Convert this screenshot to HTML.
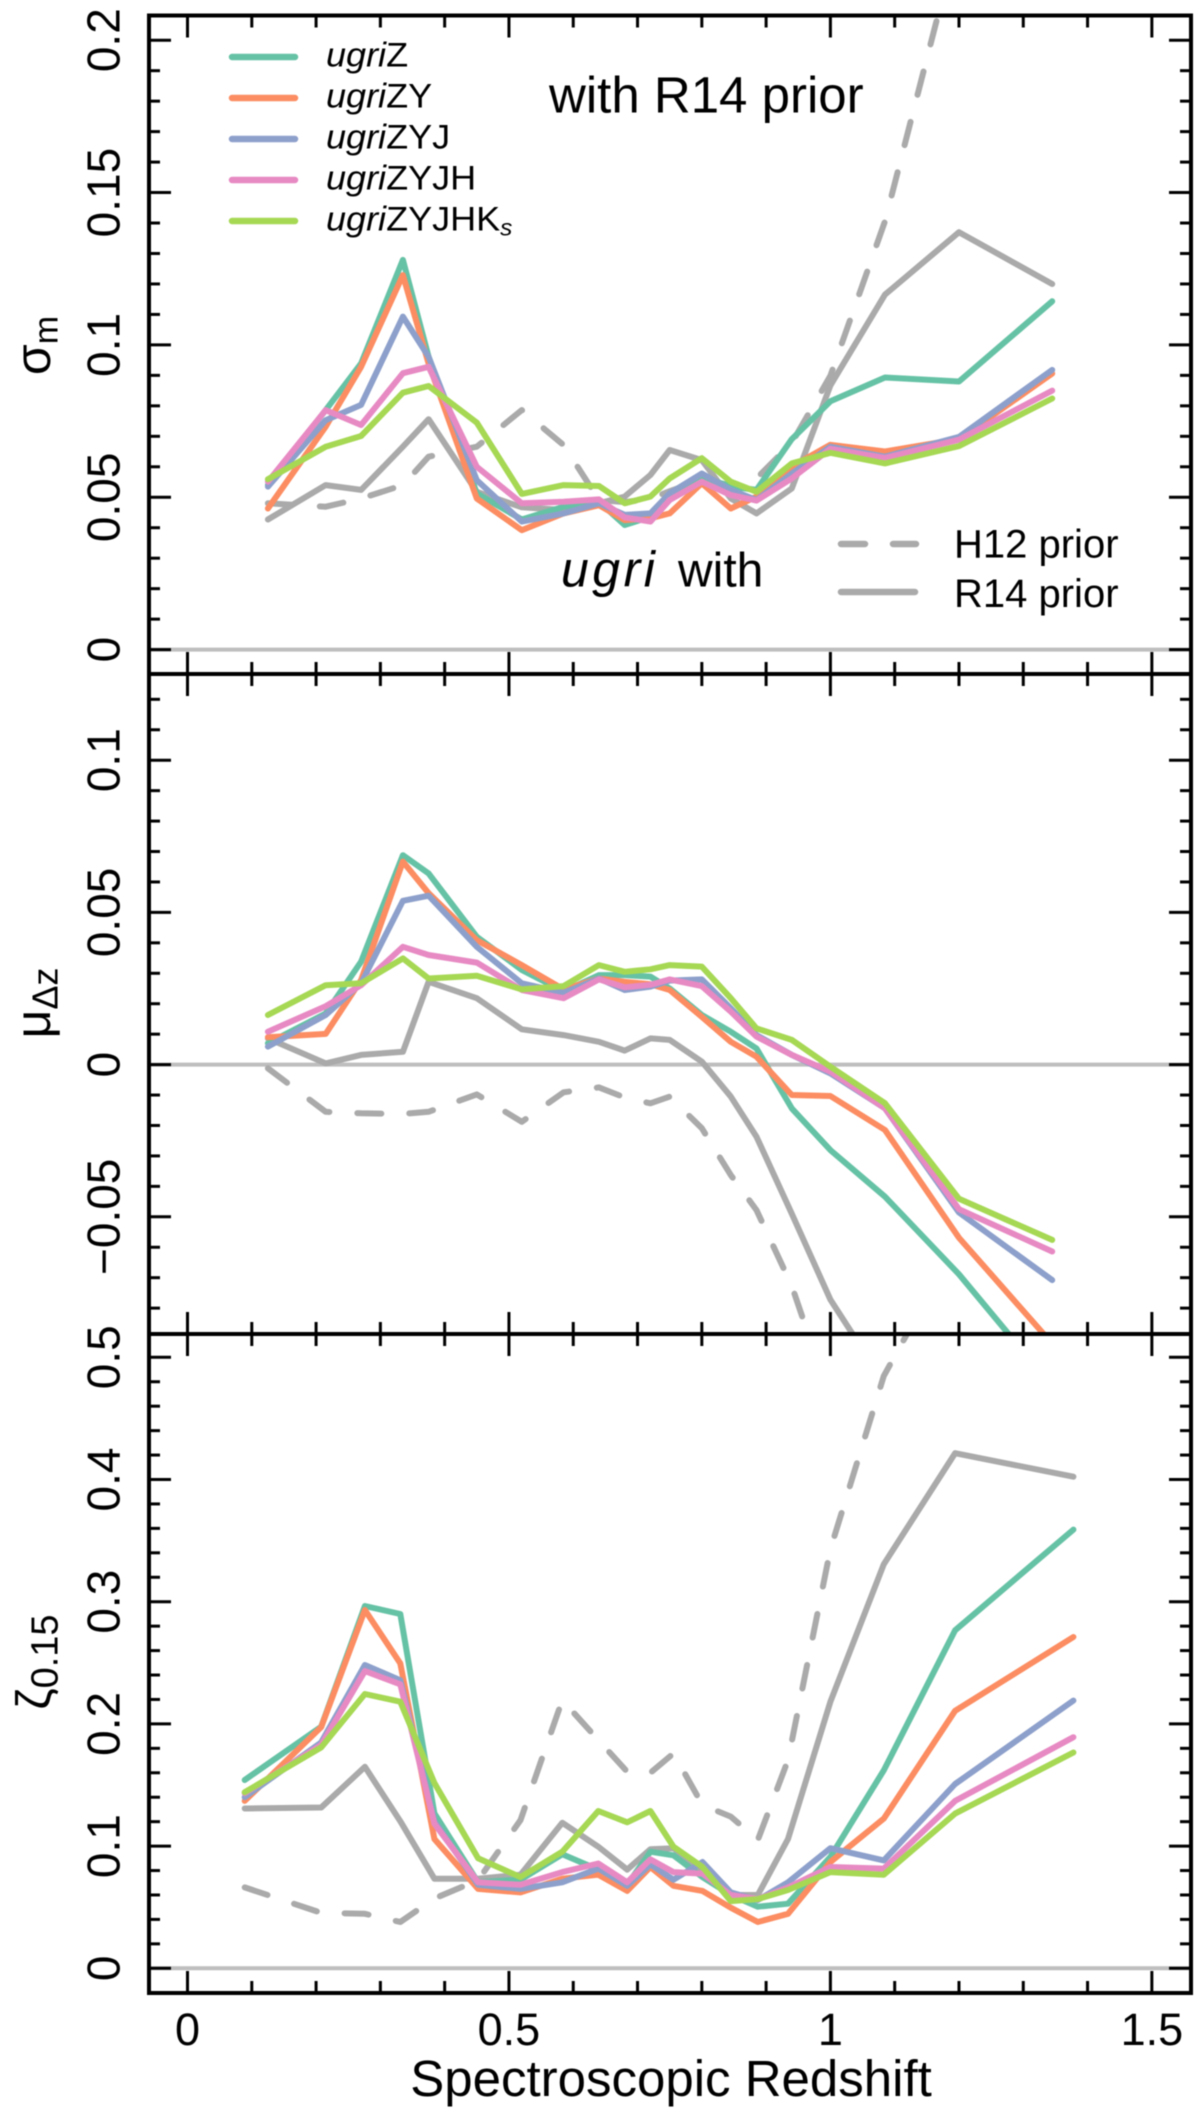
<!DOCTYPE html>
<html lang="en">
<head>
<meta charset="utf-8">
<title>Photometric redshift metrics by spectroscopic redshift</title>
<style>
html,body{margin:0;padding:0;background:#fff;width:1200px;height:2118px;overflow:hidden}
svg{display:block;font-family:"Liberation Sans",sans-serif;filter:blur(0.5px)}
text{fill:#000}
</style>
</head>
<body>
<svg id="chart" xmlns="http://www.w3.org/2000/svg" width="1200" height="2118" viewBox="0 0 1200 2118">
  <rect x="0" y="0" width="1200" height="2118" fill="#fff"/>
  <g id="panels"></g>

  <g>
    <line x1="232" x2="295" y1="57" y2="57" stroke="#66c2a5" stroke-width="6.5" stroke-linecap="round"/>
    <line x1="232" x2="295" y1="98" y2="98" stroke="#fc8d62" stroke-width="6.5" stroke-linecap="round"/>
    <line x1="232" x2="295" y1="139" y2="139" stroke="#8da0cb" stroke-width="6.5" stroke-linecap="round"/>
    <line x1="232" x2="295" y1="180" y2="180" stroke="#e78ac3" stroke-width="6.5" stroke-linecap="round"/>
    <line x1="232" x2="295" y1="221" y2="221" stroke="#a6d854" stroke-width="6.5" stroke-linecap="round"/>
    <text transform="translate(326,66.5) scale(1.06,1)" font-size="34"><tspan font-style="italic">ugri</tspan>Z</text>
    <text transform="translate(326,107.5) scale(1.06,1)" font-size="34"><tspan font-style="italic">ugri</tspan>ZY</text>
    <text transform="translate(326,148.5) scale(1.06,1)" font-size="34"><tspan font-style="italic">ugri</tspan>ZYJ</text>
    <text transform="translate(326,189.5) scale(1.06,1)" font-size="34"><tspan font-style="italic">ugri</tspan>ZYJH</text>
    <text transform="translate(326,230.5) scale(1.06,1)" font-size="34"><tspan font-style="italic">ugri</tspan>ZYJHK<tspan font-style="italic" font-size="23" dy="5">s</tspan></text>
  </g>

  <text x="549" y="112.5" font-size="51">with R14 prior</text>
  <text x="561" y="586.5" font-size="50" font-style="italic" letter-spacing="3.5">ugri</text>
  <text x="678" y="586.5" font-size="48">with</text>

  <g>
    <line x1="841" x2="916" y1="544" y2="544" stroke="#aaaaaa" stroke-width="6.5" stroke-linecap="round" stroke-dasharray="24 28"/>
    <line x1="841" x2="915" y1="592" y2="592" stroke="#aaaaaa" stroke-width="6.5" stroke-linecap="round"/>
    <text x="954" y="557.5" font-size="40">H12 prior</text>
    <text x="954" y="607" font-size="40">R14 prior</text>
  </g>

  <text transform="translate(50,345.5) rotate(-90)" text-anchor="middle" font-size="50">σ<tspan font-size="34" dy="7.5">m</tspan></text>
  <text transform="translate(50,1003) rotate(-90)" text-anchor="middle" font-size="50">μ<tspan font-size="36" dy="7.5">Δz</tspan></text>
  <text transform="translate(50,1662) rotate(-90)" text-anchor="middle" font-size="48">ζ<tspan font-size="38" dy="7.5">0.15</tspan></text>
  <text x="671" y="2096" text-anchor="middle" font-size="51">Spectroscopic Redshift</text>
</svg>

<script>
// Redshift bin centres
const zBinsUpper = [0.125,0.215,0.27,0.335,0.375,0.45,0.52,0.585,0.64,0.68,0.72,0.75,0.80,0.845,0.885,0.94,1.0,1.085,1.2,1.345];
const zBinsLower = [0.089,0.208,0.276,0.331,0.384,0.452,0.518,0.583,0.639,0.684,0.72,0.756,0.801,0.845,0.887,0.934,1.0,1.083,1.194,1.378];

// Panel 1: sigma_m
const sigmaH12 = [0.048,0.0469,0.0496,0.054,0.0633,0.0666,0.0786,0.0671,0.0491,0.0484,0.0495,0.052,0.0557,0.054,0.0562,0.0678,0.0899,0.1406,0.235,0.30];
const sigmaR14 = [0.0427,0.054,0.0524,0.0666,0.0756,0.0518,0.0467,0.0458,0.048,0.0502,0.0573,0.0655,0.0622,0.0496,0.0447,0.0529,0.0867,0.1165,0.137,0.12];
const sigmaZ = [0.054,0.0786,0.0939,0.1279,0.0961,0.0513,0.0427,0.0469,0.0485,0.0409,0.0436,0.0513,0.0567,0.0535,0.0524,0.0691,0.0815,0.0893,0.088,0.1143];
const sigmaZY = [0.0463,0.0732,0.0928,0.1229,0.0939,0.0496,0.0392,0.0447,0.0474,0.0425,0.0431,0.0447,0.0546,0.0463,0.0502,0.0601,0.0672,0.065,0.0691,0.0906];
const sigmaZYJ = [0.0535,0.0753,0.0803,0.1093,0.0961,0.0556,0.042,0.0447,0.048,0.0442,0.0447,0.0513,0.0578,0.0524,0.0491,0.0578,0.0666,0.0633,0.0698,0.0918];
const sigmaZYJH = [0.0551,0.0786,0.0737,0.0907,0.0928,0.06,0.048,0.0485,0.0493,0.0434,0.042,0.0491,0.0551,0.0507,0.0489,0.0562,0.0659,0.0629,0.0689,0.085];
const sigmaZYJHK = [0.0559,0.0666,0.0701,0.0843,0.0865,0.0745,0.0511,0.054,0.0537,0.048,0.0502,0.0562,0.0628,0.0551,0.0518,0.0611,0.0646,0.0611,0.0668,0.0824];

// Panel 2: mu_delta_z
const muH12 = [-0.0012,-0.0155,-0.016,-0.0162,-0.0155,-0.0098,-0.0188,-0.0091,-0.0075,-0.0108,-0.0127,-0.0105,-0.0209,-0.0363,-0.0478,-0.0727,-0.11,-0.16,-0.22,-0.3];
const muR14 = [0.0086,0.0004,0.0032,0.0042,0.0272,0.0218,0.0116,0.0097,0.0075,0.0046,0.0086,0.0081,0.001,-0.0105,-0.0237,-0.049,-0.0772,-0.105,-0.16,-0.2];
const muZ = [0.007,0.0168,0.0338,0.0688,0.0628,0.042,0.0311,0.024,0.0294,0.0294,0.0289,0.025,0.0163,0.0108,0.0053,-0.0144,-0.0281,-0.0434,-0.0689,-0.1057];
const muZY = [0.009,0.0101,0.0278,0.0667,0.0563,0.0409,0.0327,0.0247,0.0283,0.0272,0.0264,0.0245,0.0157,0.0075,0.0026,-0.01,-0.0103,-0.0215,-0.0569,-0.0917];
const muZYJ = [0.0059,0.0163,0.0267,0.0538,0.0555,0.0387,0.0267,0.0236,0.0283,0.0245,0.0256,0.0276,0.028,0.0185,0.0097,0.0032,-0.0029,-0.0144,-0.0486,-0.0708];
const muZYJH = [0.0108,0.0192,0.0261,0.0387,0.036,0.0335,0.0245,0.0218,0.028,0.0254,0.0262,0.028,0.0258,0.0174,0.0092,0.0032,-0.0023,-0.0144,-0.0475,-0.0614];
const muZYJHK = [0.0163,0.0261,0.0267,0.0349,0.0283,0.0292,0.0247,0.0258,0.0327,0.0305,0.0313,0.0327,0.0322,0.0218,0.0119,0.0081,-0.0007,-0.0127,-0.0441,-0.0576];

// Panel 3: zeta_0.15
const zetaH12 = [0.0662,0.0454,0.0446,0.0379,0.0571,0.0722,0.1213,0.2195,0.1868,0.1609,0.16,0.1759,0.1336,0.1241,0.105,0.1704,0.343,0.4848,0.59,0.7];
const zetaR14 = [0.1308,0.1316,0.1649,0.1204,0.0733,0.0733,0.0766,0.1191,0.0995,0.0808,0.0975,0.0983,0.08,0.06,0.06,0.1058,0.2182,0.3307,0.4215,0.4023];
const zetaZ = [0.1541,0.1977,0.2965,0.2899,0.1268,0.0704,0.0725,0.0933,0.0808,0.0683,0.0954,0.0925,0.0746,0.06,0.0504,0.0529,0.0912,0.162,0.2766,0.359];
const zetaZY = [0.137,0.1974,0.2932,0.2495,0.1058,0.065,0.0621,0.0733,0.0766,0.0633,0.0829,0.0675,0.0633,0.0496,0.0379,0.0446,0.087,0.1225,0.2107,0.2711];
const zetaZYJ = [0.14,0.1849,0.2482,0.2357,0.1204,0.0683,0.065,0.0704,0.0816,0.0675,0.085,0.0725,0.087,0.0621,0.0558,0.0704,0.0983,0.0883,0.1508,0.2191];
const zetaZYJH = [0.1433,0.1828,0.2432,0.2324,0.1183,0.0704,0.0683,0.0787,0.0858,0.0704,0.0891,0.0787,0.0775,0.06,0.0566,0.0662,0.0829,0.0816,0.137,0.1891];
const zetaZYJHK = [0.1441,0.1808,0.2245,0.2182,0.1516,0.09,0.0746,0.0954,0.1287,0.1195,0.1287,0.0995,0.0829,0.055,0.0566,0.0641,0.0787,0.0766,0.1266,0.1766];

// Tick values and labels
const xMajorTicks = [0,0.5,1,1.5];
const xMinorTicks = [0.1,0.2,0.3,0.4,0.6,0.7,0.8,0.9,1.1,1.2,1.3,1.4];
const xTickLabels = ['0','0.5','1','1.5'];
const sigmaMajorTicks = [0,0.05,0.1,0.15,0.2];
const sigmaMinorTicks = [0.01,0.02,0.03,0.04,0.06,0.07,0.08,0.09,0.11,0.12,0.13,0.14,0.16,0.17,0.18,0.19];
const sigmaTickLabels = ['0','0.05','0.1','0.15','0.2'];
const muMajorTicks = [-0.05,0,0.05,0.1];
const muMinorTicks = [-0.08,-0.07,-0.06,-0.04,-0.03,-0.02,-0.01,0.01,0.02,0.03,0.04,0.06,0.07,0.08,0.09,0.11,0.12];
const muTickLabels = ['\u22120.05','0','0.05','0.1'];
const zetaMajorTicks = [0,0.1,0.2,0.3,0.4,0.5];
const zetaMinorTicks = [0.02,0.04,0.06,0.08,0.12,0.14,0.16,0.18,0.22,0.24,0.26,0.28,0.32,0.34,0.36,0.38,0.42,0.44,0.46,0.48];
const zetaTickLabels = ['0','0.1','0.2','0.3','0.4','0.5'];

// Layout
const frameLeft = 149, frameRight = 1191;
const xZero = 187.5, xPerUnit = 642.9;
const xScale = v => xZero + v * xPerUnit;
const svgNS = 'http://www.w3.org/2000/svg';
const root = document.getElementById('panels');

function make(tag, attrs, parent) {
  const node = document.createElementNS(svgNS, tag);
  for (const k in attrs) node.setAttribute(k, attrs[k]);
  parent.appendChild(node);
  return node;
}

function drawPanel(p) {
  const yScale = v => p.y0 - v * p.k;

  const g = make('g', {}, root);
  
  

  const clip = make('clipPath', {id: p.name + '-clip'}, g);
  make('rect', {x: frameLeft, y: p.top, width: frameRight - frameLeft, height: p.bottom - p.top}, clip);

  const zero = make('line', {x1: frameLeft, x2: frameRight, y1: yScale(0), y2: yScale(0), stroke: '#bebebe', 'stroke-width': 4}, g);
  
  

  const marks = make('g', {'clip-path': 'url(#' + p.name + '-clip)'}, g);
  
  
  p.series.forEach(s => {
    const pts = s.values.map((v, i) => xScale(p.zs[i]).toFixed(1) + ',' + yScale(v).toFixed(1)).join(' ');
    const attrs = {points: pts, fill: 'none', stroke: s.color, 'stroke-width': 6, 'stroke-linejoin': 'round', 'stroke-linecap': 'round'};
    if (s.dashed) attrs['stroke-dasharray'] = '24 28';
    const line = make('polyline', attrs, marks);
    
    
  });

  // y ticks, both sides
  p.major.forEach((v, i) => {
    [[frameLeft, frameLeft + 22], [frameRight - 22, frameRight]].forEach(ends => {
      const t = make('line', {x1: ends[0], x2: ends[1], y1: yScale(v), y2: yScale(v), stroke: '#000', 'stroke-width': 3}, g);
      
      
    });
    const lab = make('text', {transform: 'translate(119.5,' + yScale(v).toFixed(1) + ') rotate(-90)', 'text-anchor': 'middle', 'font-size': 46}, g);
    lab.textContent = p.labels[i];
    
    
  });
  p.minor.forEach(v => {
    [[frameLeft, frameLeft + 11], [frameRight - 11, frameRight]].forEach(ends => {
      const t = make('line', {x1: ends[0], x2: ends[1], y1: yScale(v), y2: yScale(v), stroke: '#000', 'stroke-width': 3}, g);
      
      
    });
  });

  // x ticks, top and bottom
  xMajorTicks.forEach(v => {
    [[p.top, p.top + 22], [p.bottom - 22, p.bottom]].forEach(ends => {
      const t = make('line', {x1: xScale(v), x2: xScale(v), y1: ends[0], y2: ends[1], stroke: '#000', 'stroke-width': 3}, g);
      
      
    });
  });
  xMinorTicks.forEach(v => {
    [[p.top, p.top + 12], [p.bottom - 12, p.bottom]].forEach(ends => {
      const t = make('line', {x1: xScale(v), x2: xScale(v), y1: ends[0], y2: ends[1], stroke: '#000', 'stroke-width': 3}, g);
      
      
    });
  });

  const frame = make('rect', {x: frameLeft, y: p.top, width: frameRight - frameLeft, height: p.bottom - p.top, fill: 'none', stroke: '#000', 'stroke-width': 4}, g);
  
  
}

const gray = '#aaaaaa';
const teal = '#66c2a5', orange = '#fc8d62', blue = '#8da0cb', pink = '#e78ac3', green = '#a6d854';

drawPanel({
  name: 'sigma', top: 15.5, bottom: 674, y0: 649.6, k: 3047, zs: zBinsUpper,
  major: sigmaMajorTicks, minor: sigmaMinorTicks, labels: sigmaTickLabels,
  series: [
    {key: 'h12-prior', color: gray, dashed: true, values: sigmaH12},
    {key: 'r14-prior', color: gray, values: sigmaR14},
    {key: 'ugriz', color: teal, values: sigmaZ},
    {key: 'ugrizy', color: orange, values: sigmaZY},
    {key: 'ugrizyj', color: blue, values: sigmaZYJ},
    {key: 'ugrizyjh', color: pink, values: sigmaZYJH},
    {key: 'ugrizyjhks', color: green, values: sigmaZYJHK}
  ]
});
drawPanel({
  name: 'mu', top: 674, bottom: 1334, y0: 1064.6, k: 3044, zs: zBinsUpper,
  major: muMajorTicks, minor: muMinorTicks, labels: muTickLabels,
  series: [
    {key: 'h12-prior', color: gray, dashed: true, values: muH12},
    {key: 'r14-prior', color: gray, values: muR14},
    {key: 'ugriz', color: teal, values: muZ},
    {key: 'ugrizy', color: orange, values: muZY},
    {key: 'ugrizyj', color: blue, values: muZYJ},
    {key: 'ugrizyjh', color: pink, values: muZYJH},
    {key: 'ugrizyjhks', color: green, values: muZYJHK}
  ]
});
drawPanel({
  name: 'zeta', top: 1334, bottom: 1993, y0: 1968.3, k: 1222, zs: zBinsLower,
  major: zetaMajorTicks, minor: zetaMinorTicks, labels: zetaTickLabels,
  series: [
    {key: 'h12-prior', color: gray, dashed: true, values: zetaH12},
    {key: 'r14-prior', color: gray, values: zetaR14},
    {key: 'ugriz', color: teal, values: zetaZ},
    {key: 'ugrizy', color: orange, values: zetaZY},
    {key: 'ugrizyj', color: blue, values: zetaZYJ},
    {key: 'ugrizyjh', color: pink, values: zetaZYJH},
    {key: 'ugrizyjhks', color: green, values: zetaZYJHK}
  ]
});

// x tick labels under the bottom panel
xMajorTicks.forEach((v, i) => {
  const lab = make('text', {x: xScale(v), y: 2045, 'text-anchor': 'middle', 'font-size': 45}, document.getElementById('chart'));
  lab.textContent = xTickLabels[i];
  
  
});
</script>
</body>
</html>
